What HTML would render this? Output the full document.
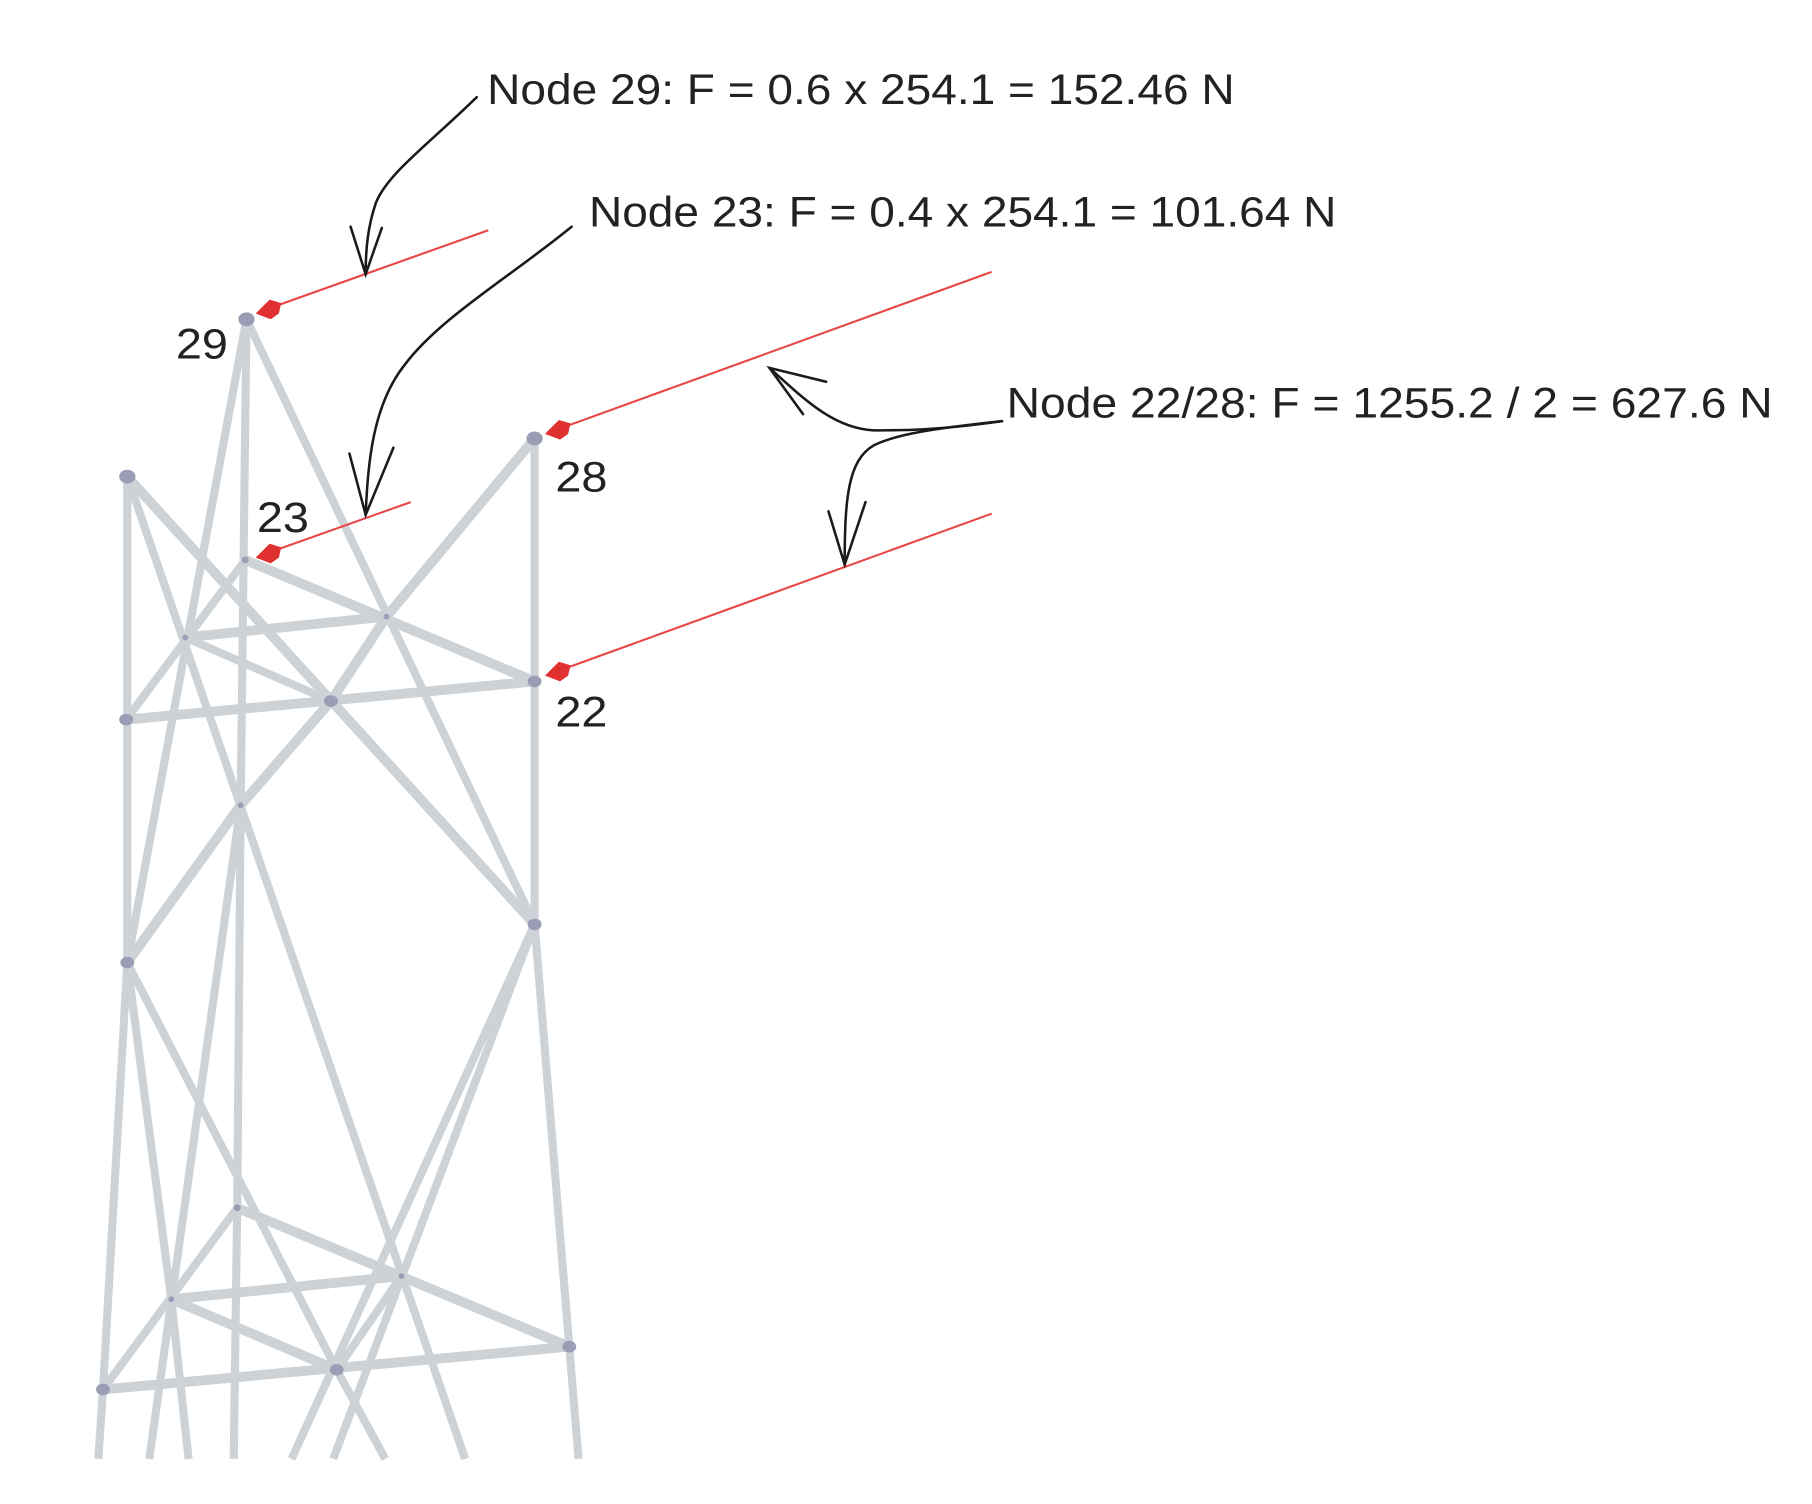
<!DOCTYPE html>
<html><head><meta charset="utf-8"><style>
html,body{margin:0;padding:0;background:#fff;}
svg{display:block;}
text{font-family:"Liberation Sans",sans-serif;fill:#222;}
</style></head><body>
<svg width="1812" height="1504" viewBox="0 0 1566 1300" preserveAspectRatio="none" xmlns="http://www.w3.org/2000/svg">
<rect width="1566" height="1300" fill="#fff"/>
<g stroke="#cdd2d6" stroke-width="7" fill="none" stroke-linecap="butt">
<line x1="213" y1="276" x2="110" y2="832"/>
<line x1="213" y1="276" x2="462" y2="799"/>
<polyline points="213,276 208,696 205,1044 202,1261"/>
<line x1="462" y1="379" x2="462" y2="799"/>
<polyline points="462,799 492,1164 500,1261"/>
<polyline points="110,412 110,832 89,1201 85,1261"/>
<line x1="110" y1="412" x2="402" y2="1261"/>
<line x1="110" y1="412" x2="462" y2="799" stroke-width="8.5"/>
<line x1="212" y1="484" x2="462" y2="589" stroke-width="8.5"/>
<line x1="212" y1="484" x2="109" y2="622"/>
<line x1="160" y1="551" x2="334" y2="533" stroke-width="8.5"/>
<line x1="160" y1="551" x2="286" y2="606"/>
<line x1="109" y1="622" x2="462" y2="589" stroke-width="8.5"/>
<polyline points="462,379 334,533 286,606 208,696 110,832" stroke-width="8.5"/>
<line x1="208" y1="696" x2="129" y2="1261"/>
<polyline points="110,832 148,1123 163,1261"/>
<polyline points="110,832 291,1184 333,1261"/>
<line x1="462" y1="799" x2="252" y2="1261"/>
<line x1="462" y1="799" x2="288" y2="1261"/>
<line x1="205" y1="1044" x2="492" y2="1164" stroke-width="8.5"/>
<line x1="205" y1="1044" x2="89" y2="1201"/>
<line x1="148" y1="1123" x2="347" y2="1103" stroke-width="8.5"/>
<line x1="148" y1="1123" x2="291" y2="1184" stroke-width="8.5"/>
<line x1="89" y1="1201" x2="492" y2="1164" stroke-width="8.5"/>
<line x1="347" y1="1103" x2="291" y2="1184"/>
</g>
<g fill="#9a9db5">
<ellipse cx="213" cy="276" rx="7" ry="6"/><ellipse cx="462" cy="379" rx="7" ry="6"/><ellipse cx="110" cy="412" rx="7" ry="6"/>
<ellipse cx="109" cy="622" rx="6" ry="5"/><ellipse cx="462" cy="589" rx="6" ry="5"/><ellipse cx="286" cy="606" rx="6" ry="5"/>
<ellipse cx="110" cy="832" rx="6" ry="5"/><ellipse cx="462" cy="799" rx="6" ry="5"/><ellipse cx="89" cy="1201" rx="6" ry="5"/>
<ellipse cx="291" cy="1184" rx="6" ry="5"/><ellipse cx="492" cy="1164" rx="6" ry="5"/>
<circle cx="212" cy="484" r="3"/><circle cx="160" cy="551" r="2.5"/><circle cx="334" cy="533" r="2.5"/>
<circle cx="208" cy="696" r="2.5"/><circle cx="205" cy="1044" r="3"/><circle cx="148" cy="1123" r="2.5"/><circle cx="347" cy="1103" r="2.5"/>
</g>
<g stroke="#e84545" stroke-width="1.8">
<line x1="422" y1="199" x2="234" y2="266"/>
<line x1="355" y1="434" x2="234" y2="477"/>
<line x1="857" y1="235" x2="485" y2="370"/>
<line x1="857" y1="444" x2="485" y2="579"/>
</g>
<g fill="#e03030">
<polygon points="221,271 233,259 243,262 241,271 234,276"/>
<polygon points="221,482 233,470 243,473 241,482 234,487"/>
<polygon points="471,375 483,363 493,366 491,375 484,380"/>
<polygon points="471,584 483,572 493,575 491,584 484,589"/>
</g>
<g stroke="#1a1a1a" stroke-width="2.2" fill="none" stroke-linecap="round">
<path d="M412,84 C370,125 335,150 325,175 C318,195 316,215 316,237"/>
<polyline points="303,196 316,237 330,197"/>
<path d="M494,196 C440,240 380,275 350,315 C322,350 318,400 316,445"/>
<polyline points="302,392 316,445 340,387"/>
<path d="M866,364 C810,372 780,372 755,372 C720,370 695,345 665,318"/>
<polyline points="714,330 665,318 694,358"/>
<path d="M866,364 C810,370 775,375 755,385 C733,398 730,430 730,488"/>
<polyline points="716,442 730,488 748,434"/>
</g>
<text x="421" y="90" font-size="37" textLength="646" lengthAdjust="spacingAndGlyphs">Node 29: F = 0.6 x 254.1 = 152.46 N</text>
<text x="509" y="196" font-size="37" textLength="646" lengthAdjust="spacingAndGlyphs">Node 23: F = 0.4 x 254.1 = 101.64 N</text>
<text x="870" y="361" font-size="37" textLength="662" lengthAdjust="spacingAndGlyphs">Node 22/28: F = 1255.2 / 2 = 627.6 N</text>
<text x="152" y="310" font-size="37" textLength="45" lengthAdjust="spacingAndGlyphs">29</text>
<text x="480" y="425" font-size="37" textLength="45" lengthAdjust="spacingAndGlyphs">28</text>
<text x="222" y="460" font-size="37" textLength="45" lengthAdjust="spacingAndGlyphs">23</text>
<text x="480" y="628" font-size="37" textLength="45" lengthAdjust="spacingAndGlyphs">22</text>
</svg>
</body></html>
